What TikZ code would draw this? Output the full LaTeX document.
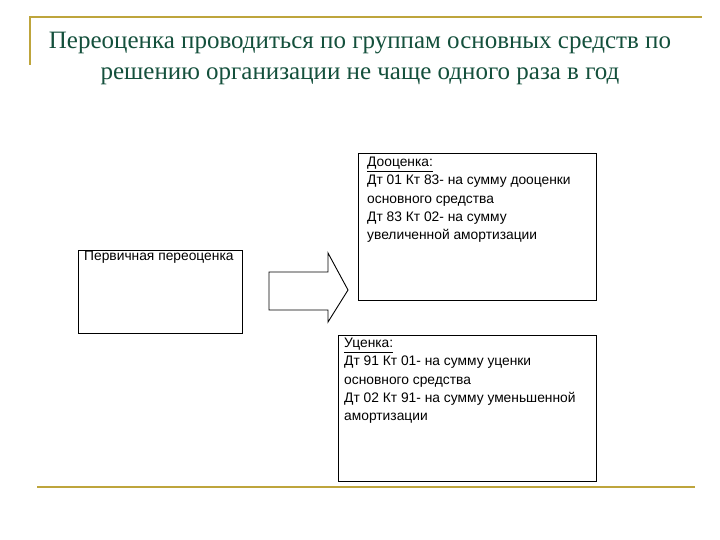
\documentclass[tikz,border=0pt]{standalone}
\usepackage{fontspec}
\setmainfont{Liberation Sans}
\newfontfamily\titlefont{Liberation Serif}
\definecolor{gold}{RGB}{190,165,60}
\definecolor{tgreen}{RGB}{20,80,60}
\begin{document}
\begin{tikzpicture}[x=1pt,y=-1pt,
  box/.style={draw,line width=0.9pt,anchor=north west,inner sep=0pt},
  txt/.style={anchor=north west,align=left,font=\fontsize{13.8}{18.3}\selectfont,inner sep=0pt}]
\useasboundingbox (0,0) rectangle (720,540);
\draw[gold,line width=1.5pt] (30,65) -- (30,17) -- (702,17);
\draw[gold,line width=1.5pt] (37,487) -- (695,487);
\node[font=\titlefont\fontsize{25}{31}\selectfont,text=tgreen,align=center] (t) at (360,58)
 {Переоценка проводиться по группам основных средств по\\решению организации не чаще одного раза в год};
\node[box,minimum width=164pt,minimum height=83pt] (p) at (78,250) {};
\node[txt] (pt) at (84,251) {Первичная переоценка};
\node[box,minimum width=238pt,minimum height=147pt] (d) at (358,153) {};
\node[txt] (dt) at (367,157) {\underline{Дооценка:}\\Дт 01 Кт 83- на сумму дооценки\\основного средства\\Дт 83 Кт 02- на сумму\\увеличенной амортизации};
\node[box,minimum width=258pt,minimum height=146pt] (u) at (338,335) {};
\node[txt] (ut) at (344,338) {\underline{Уценка:}\\Дт 91 Кт 01- на сумму уценки\\основного средства\\Дт 02 Кт 91- на сумму уменьшенной\\амортизации};
\draw[line width=0.9pt] (269,272) -- (328,272) -- (328,253) -- (348,290) -- (328,322) -- (328,310) -- (269,310) -- cycle;
\end{tikzpicture}
\end{document}
